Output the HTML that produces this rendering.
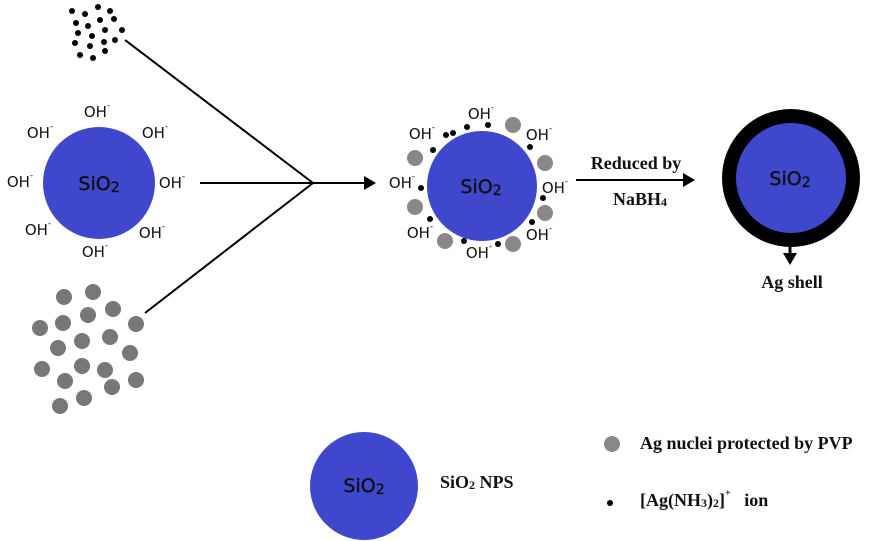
<!DOCTYPE html>
<html><head><meta charset="utf-8"><style>
html,body{margin:0;padding:0;background:#fff;}
svg{display:block}
.oh{font-family:"DejaVu Sans","Liberation Sans",sans-serif;font-size:15px;fill:#111;text-anchor:middle;dominant-baseline:central}
.si{font-family:"DejaVu Sans","Liberation Sans",sans-serif;font-size:19px;fill:#111;text-anchor:middle;dominant-baseline:central;stroke:#111;stroke-width:0.4}
.t{font-family:"Liberation Serif",serif;font-weight:bold;font-size:18px;fill:#111;dominant-baseline:central}
</style></head><body>
<svg width="872" height="541" viewBox="0 0 872 541">
<defs><marker id="a" markerWidth="12" markerHeight="14" refX="2" refY="7" orient="auto" markerUnits="userSpaceOnUse"><path d="M0,0 L12,7 L0,14z" fill="#000"/></marker></defs>
<g fill="#000">
<circle cx="72" cy="11" r="3"/><circle cx="85" cy="14" r="3"/><circle cx="98" cy="7" r="3"/><circle cx="110" cy="11" r="3"/>
<circle cx="76" cy="23" r="3"/><circle cx="88" cy="26" r="3"/><circle cx="100" cy="20" r="3"/><circle cx="114" cy="19" r="3"/>
<circle cx="78" cy="33" r="3"/><circle cx="92" cy="36" r="3"/><circle cx="105" cy="30" r="3"/><circle cx="122" cy="30" r="3"/>
<circle cx="75" cy="43" r="3"/><circle cx="90" cy="46" r="3"/><circle cx="104" cy="42" r="3"/><circle cx="115" cy="40" r="3"/>
<circle cx="80" cy="55" r="3"/><circle cx="93" cy="58" r="3"/><circle cx="105" cy="51" r="3"/>
</g>
<g fill="#777">
<circle cx="64" cy="297" r="8"/><circle cx="93" cy="292" r="8"/><circle cx="113" cy="309" r="8"/><circle cx="40" cy="328" r="8"/>
<circle cx="63" cy="323" r="8"/><circle cx="88" cy="315" r="8"/><circle cx="136" cy="324" r="8"/><circle cx="58" cy="348" r="8"/>
<circle cx="82" cy="341" r="8"/><circle cx="110" cy="337" r="8"/><circle cx="130" cy="353" r="8"/><circle cx="42" cy="369" r="8"/>
<circle cx="65" cy="381" r="8"/><circle cx="82" cy="366" r="8"/><circle cx="105" cy="370" r="8"/><circle cx="136" cy="380" r="8"/>
<circle cx="112" cy="387" r="8"/><circle cx="60" cy="406" r="8"/><circle cx="84" cy="398" r="8"/>
</g>
<g stroke="#000" stroke-width="2" fill="none">
<line x1="125" y1="40" x2="313" y2="183"/><line x1="145" y1="313" x2="313" y2="183"/>
<line x1="200" y1="183" x2="366" y2="183" marker-end="url(#a)"/>
<line x1="576" y1="180" x2="685" y2="180" marker-end="url(#a)"/>
<line x1="790" y1="245" x2="790" y2="255" stroke-width="3" marker-end="url(#a)"/>
</g>
<circle cx="99" cy="183" r="56" fill="#3f48cc"/>
<text class="si" x="99" y="184">SiO<tspan font-size="14" dy="4">2</tspan></text>
<g class="oh">
<text x="97" y="112">OH<tspan font-size="9" dy="-6">-</tspan></text>
<text x="40" y="133">OH<tspan font-size="9" dy="-6">-</tspan></text>
<text x="155" y="133">OH<tspan font-size="9" dy="-6">-</tspan></text>
<text x="20" y="182">OH<tspan font-size="9" dy="-6">-</tspan></text>
<text x="172" y="183">OH<tspan font-size="9" dy="-6">-</tspan></text>
<text x="38" y="230">OH<tspan font-size="9" dy="-6">-</tspan></text>
<text x="152" y="233">OH<tspan font-size="9" dy="-6">-</tspan></text>
<text x="95" y="252">OH<tspan font-size="9" dy="-6">-</tspan></text>
</g>
<circle cx="482" cy="186" r="55" fill="#3f48cc"/>
<text class="si" x="481" y="187">SiO<tspan font-size="14" dy="4">2</tspan></text>
<g fill="#888">
<circle cx="513" cy="125" r="8"/><circle cx="545" cy="163" r="8"/><circle cx="415" cy="158" r="8"/><circle cx="545" cy="213" r="8"/>
<circle cx="415" cy="207" r="8"/><circle cx="445" cy="241" r="8"/><circle cx="513" cy="244" r="8"/>
</g>
<g fill="#000">
<circle cx="467" cy="127" r="3"/><circle cx="488" cy="125" r="3"/><circle cx="453" cy="133" r="3"/><circle cx="446" cy="135" r="3"/>
<circle cx="433" cy="150" r="3"/><circle cx="421" cy="188" r="3"/><circle cx="430" cy="219" r="3"/><circle cx="464" cy="241" r="3"/>
<circle cx="498" cy="244" r="3"/><circle cx="532" cy="222" r="3"/><circle cx="543" cy="198" r="3"/><circle cx="530" cy="147" r="3"/>
</g>
<g class="oh">
<text x="481" y="114">OH<tspan font-size="9" dy="-6">-</tspan></text>
<text x="422" y="134">OH<tspan font-size="9" dy="-6">-</tspan></text>
<text x="539" y="135">OH<tspan font-size="9" dy="-6">-</tspan></text>
<text x="402" y="183">OH<tspan font-size="9" dy="-6">-</tspan></text>
<text x="555" y="188">OH<tspan font-size="9" dy="-6">-</tspan></text>
<text x="420" y="233">OH<tspan font-size="9" dy="-6">-</tspan></text>
<text x="539" y="235">OH<tspan font-size="9" dy="-6">-</tspan></text>
<text x="479" y="253">OH<tspan font-size="9" dy="-6">-</tspan></text>
</g>
<text class="t" x="636" y="163" text-anchor="middle">Reduced by</text>
<text class="t" x="640" y="199" text-anchor="middle">NaBH<tspan font-size="12" dy="3">4</tspan></text>
<circle cx="791" cy="178" r="69" fill="#000"/>
<circle cx="791" cy="178" r="55" fill="#3f48cc"/>
<text class="si" x="790" y="179">SiO<tspan font-size="14" dy="4">2</tspan></text>
<text class="t" x="792" y="282" text-anchor="middle">Ag shell</text>
<circle cx="364" cy="486" r="54" fill="#3f48cc"/>
<text class="si" x="364" y="486">SiO<tspan font-size="14" dy="4">2</tspan></text>
<text class="t" x="440" y="482">SiO<tspan font-size="12" dy="3">2</tspan><tspan dy="-3"> NPS</tspan></text>
<circle cx="612" cy="444" r="8" fill="#888"/>
<text class="t" x="640" y="443">Ag nuclei protected by PVP</text>
<circle cx="610" cy="503" r="3" fill="#000"/>
<text class="t" x="640" y="500">[Ag(NH<tspan font-size="12" dy="3">3</tspan><tspan dy="-3">)</tspan><tspan font-size="12" dy="3">2</tspan><tspan dy="-3">]</tspan><tspan font-size="10" dy="-7">+</tspan><tspan dy="7" xml:space="preserve">   ion</tspan></text>
</svg>
</body></html>
